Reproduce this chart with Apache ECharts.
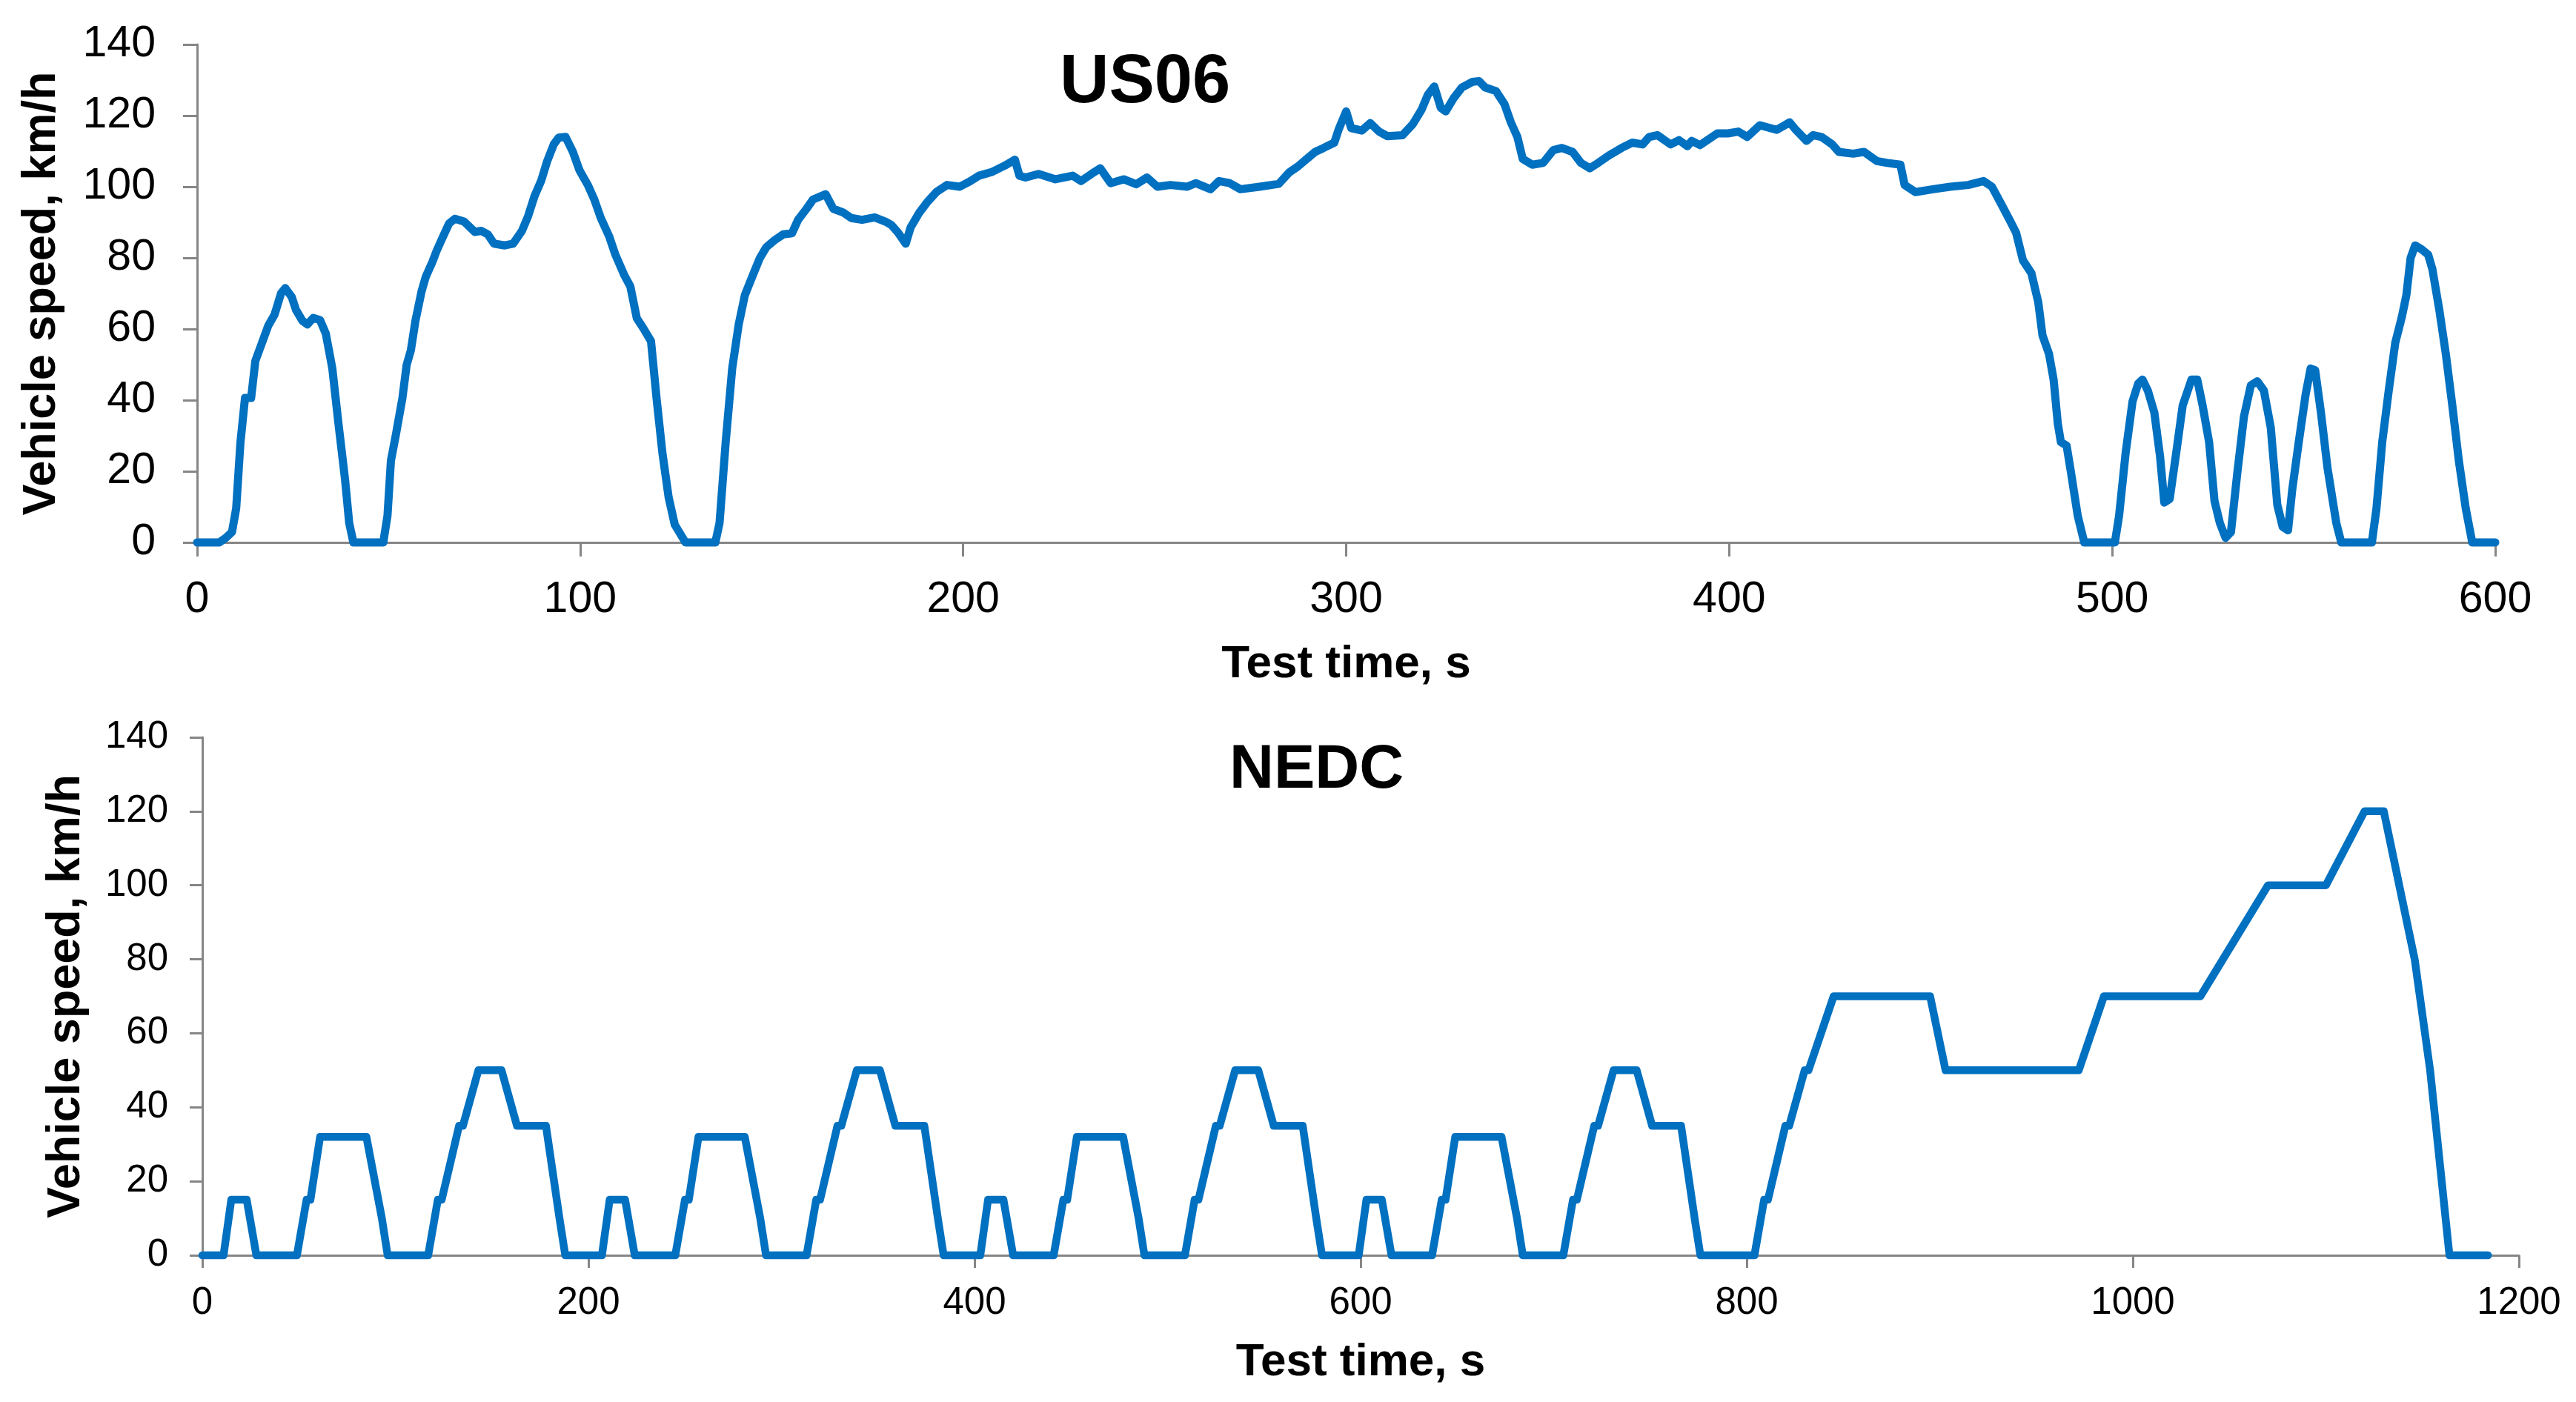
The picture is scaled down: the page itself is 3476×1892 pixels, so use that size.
<!DOCTYPE html>
<html>
<head>
<meta charset="utf-8">
<script src="https://cdn.jsdelivr.net/npm/echarts@6/dist/echarts.min.js"></script>
<style>
html,body{margin:0;padding:0;background:#fff;}
#c{width:3476px;height:1892px;}
</style>
</head>
<body>
<div id="c"></div>
<script>
// ---- US06 cycle ----
var usTime = [0,5.8,7.5,9.1,10.2,11.3,12.5,14.1,15.2,16.9,18.6,20.2,21.9,23,24.7,25.8,27.5,28.8,30.3,32.1,33.6,35.3,36.9,38.6,39.7,40.8,48.6,49.7,50.6,51.9,53.6,54.7,55.8,57,58.6,59.7,61.4,62.5,64.2,65.8,67.3,69.7,72.5,74.2,75.9,77.5,80.3,82.5,84.8,86.4,88.1,89.8,91.4,93.1,94.4,96.2,98.1,99.8,102,103.7,105.4,107.6,109.2,111.5,113.1,114.8,116.5,118.5,120,121.5,123.1,124.7,127.5,135.3,136.4,138,139.7,141.4,143,145.3,146.9,148.6,150.8,153,155.3,156.9,159.1,160.8,164.1,166.1,168.6,170.8,173.6,176.9,179.7,181.3,183,185,186.3,188.6,190.8,193,195.8,199.1,201.9,204.1,207.4,210.8,213.5,214.7,216.3,219.7,224.1,228.6,230.8,233.5,235.8,238.5,241.9,245.2,248,250.7,254.1,258.5,260.7,264.6,266.8,269.6,272.4,277.4,282.4,285.2,287.4,289.7,291.9,294.1,296.9,298,300,301.3,304.1,306.3,308.6,310.8,314.7,317.4,319.7,321.3,323,324.7,326,328,330.2,333,334.7,336.3,339.1,341.3,343,344.7,346.1,348.6,351.4,354.1,356.3,359.1,361.3,363.6,365.8,368.6,371.9,374.7,377.4,379.1,381.3,384.7,386.9,389.1,390.2,392.4,394.7,396.9,399.7,402.4,404.7,408,412.4,415.8,417.4,420.2,421.9,424.1,426.9,428.6,432.4,435.2,438.6,441.3,444.7,445.8,448.6,453.2,457.7,462.4,466.4,468.6,470.9,473.2,474.9,476.7,478.9,480.7,481.8,483.5,484.7,485.8,486.6,488.1,489.2,491,492.7,500.7,501.8,503.5,505.3,506.8,507.9,509.3,511,512.5,513.6,515,516.7,518.4,520.7,522.2,523.6,525.3,526.7,528.1,529.6,531,532.7,534.4,536.2,537.9,539.6,541.4,543.1,544.5,545.9,547,548.7,550.5,551.8,553,554.5,556.2,558.5,559.8,567.8,569,570.5,572.2,573.9,575.6,576.8,577.9,579.1,580.8,582.5,583.6,585.4,587.1,588.8,590.5,592.3,594,600];
var usSpeed = [0,0,1.3,2.9,9.6,28,40.6,40.6,51,56,61,64,70,71.5,69,65.4,62.3,61.3,63.1,62.5,58.7,48.9,33.4,17.9,5.5,0,0,7.5,23,30.3,40.6,49.9,54,62.3,70.6,74.7,78.8,81.9,86,89.7,91,90.2,87.3,87.6,86.6,84,83.5,84,87.6,91.7,97.4,101.6,107.2,111.9,113.8,114,109.8,104.7,100.5,96.4,91.2,86,80.9,75.2,72,63,60.2,56.6,40,25,12.7,5,0,0,5.5,28.2,48.9,61.3,69.5,75.7,79.9,83,85,86.6,86.9,90.7,93.8,96.4,97.9,93.8,92.8,91.2,90.7,91.4,90.2,89.2,87.1,84,88.6,92.8,95.9,98.5,100.5,100,101.6,103.1,104.1,105.9,107.6,103.1,102.6,103.6,102.1,103.1,101.6,103.6,105.2,101,102.1,100.7,102.6,100,100.5,100,101,99.3,101.6,101,99.3,100,100.8,104.1,105.7,107.8,109.8,110.9,112.4,116,121.2,116.5,115.8,117.9,115.5,114.2,114.5,117.6,121.7,125.8,128.2,122.2,121.2,124.8,127.9,129.5,129.7,127.9,126.9,123.3,118.1,114,107.8,106.2,106.7,110.3,110.9,109.8,106.7,105.2,106.7,108.8,110.9,112.4,111.9,114,114.5,111.9,113.1,111.4,112.9,111.7,113.4,115,115,115.5,114,117.3,116,118.1,116,112.9,114.5,114,111.9,109.8,109.3,109.8,107.2,106.7,106.2,100.5,98.5,99.3,100,100.5,101.6,100,95.4,90.7,87.1,79.3,75.7,67.5,58.2,53,45.8,33.4,28.2,27.2,19.9,7.5,0,0,7.5,25.1,39.6,44.7,45.8,42.7,36.5,24.1,11.2,12.2,25.1,38.5,45.8,45.8,38.5,28.2,11.7,5.5,1.3,2.9,19.9,35.4,44.2,45.3,42.7,32.3,10.6,4.4,3.4,14.8,28.2,41.6,48.9,48.4,36.5,21,5.5,0,0,9.6,28.2,42.7,56.1,63.3,69.5,79.9,83.5,82.4,80.9,76.8,65.4,53,38.5,23,9.6,0,0];

// ---- NEDC cycle (breakpoints) ----
var nedcTime = [0,11,15,23,28,49,54,56,61,85,93,96,117,122,124,133,135,143,155,163,176,178,185,188,
  207,211,219,224,245,250,252,257,281,289,292,313,318,320,329,331,339,351,359,372,374,381,384,
  403,407,415,420,441,446,448,453,477,485,488,509,514,516,525,527,535,547,555,568,570,577,580,
  599,603,611,616,637,642,644,649,673,681,684,705,710,712,721,723,731,743,751,764,766,773,776,
  804,809,811,820,822,830,832,845,895,903,972,985,1035,1070,1100,1120,1130,1146,1154,1164,1184];
var nedcSpeed = [0,0,15,15,0,0,15,15,32,32,10,0,0,15,15,35,35,50,50,35,35,35,10,0,
  0,15,15,0,0,15,15,32,32,10,0,0,15,15,35,35,50,50,35,35,35,10,0,
  0,15,15,0,0,15,15,32,32,10,0,0,15,15,35,35,50,50,35,35,35,10,0,
  0,15,15,0,0,15,15,32,32,10,0,0,15,15,35,35,50,50,35,35,35,10,0,
  0,15,15,35,35,50,50,70,70,50,50,70,70,100,100,120,120,80,50,0,0];

var chartTitles = ['US06', 'NEDC'];
var xName = 'Test time, s';
var yName = 'Vehicle speed, km/h';

function pairs(t, v){ var out=[]; for (var i=0;i<t.length;i++) out.push([t[i], v[i]]); return out; }
function plain(v){ return String(v); }

var FONT = '"Liberation Sans", Arial, sans-serif';
var AX = '#868686';
var BLUE = '#0070C0';

function xAxisCfg(grid, max, interval, fs, margin, nameGap, tickLen){
  return {
    type:'value', gridIndex:grid, min:0, max:max, interval:interval,
    name:xName, nameLocation:'middle', nameGap:nameGap,
    nameTextStyle:{fontFamily:FONT, fontWeight:'bold', fontSize:62, color:'#000', lineHeight:62},
    axisLine:{show:true, onZero:false, lineStyle:{color:AX, width:3}},
    axisTick:{show:true, inside:false, length:tickLen, lineStyle:{color:AX, width:3}},
    axisLabel:{fontFamily:FONT, fontSize:fs, color:'#000', margin:margin, lineHeight:fs, formatter:plain},
    splitLine:{show:false}
  };
}
function yAxisCfg(grid, fs, margin, nameGap, tickLen){
  return {
    type:'value', gridIndex:grid, min:0, max:140, interval:20,
    name:yName, nameLocation:'middle', nameGap:nameGap, nameRotate:90,
    nameTextStyle:{fontFamily:FONT, fontWeight:'bold', fontSize:63, color:'#000', lineHeight:63},
    axisLine:{show:true, onZero:false, lineStyle:{color:AX, width:3}},
    axisTick:{show:true, inside:false, length:tickLen, lineStyle:{color:AX, width:3}},
    axisLabel:{fontFamily:FONT, fontSize:fs, color:'#000', margin:margin, formatter:plain},
    splitLine:{show:false}
  };
}

var chart = echarts.init(document.getElementById('c'), null, {renderer:'canvas'});
chart.setOption({
  animation:false,
  backgroundColor:'#fff',
  grid:[
    {left:266, top:60, width:3101, height:672},
    {left:273, top:995, width:3126, height:699}
  ],
  xAxis:[
    xAxisCfg(0, 600, 100, 59, 48, 134, 19),
    xAxisCfg(1, 1200, 200, 51, 39, 114, 17)
  ],
  yAxis:[
    yAxisCfg(0, 59, 56, 178, 19),
    yAxisCfg(1, 51, 46, 152, 17)
  ],
  graphic:[
    {type:'text', left:1545-115, top:113-46, style:{text:chartTitles[0], font:'bold 92px '+FONT, fill:'#000'}},
    {type:'text', left:1774-115, top:1041-42, style:{text:chartTitles[1], font:'bold 83px '+FONT, fill:'#000'}}
  ],
  series:[
    {type:'line', xAxisIndex:0, yAxisIndex:0, data:pairs(usTime, usSpeed), showSymbol:false, clip:false,
     lineStyle:{color:BLUE, width:11, join:'round', cap:'round'}},
    {type:'line', xAxisIndex:1, yAxisIndex:1, data:pairs(nedcTime, nedcSpeed), showSymbol:false, clip:false,
     lineStyle:{color:BLUE, width:10.5, join:'round', cap:'round'}}
  ]
});
</script>
</body>
</html>
